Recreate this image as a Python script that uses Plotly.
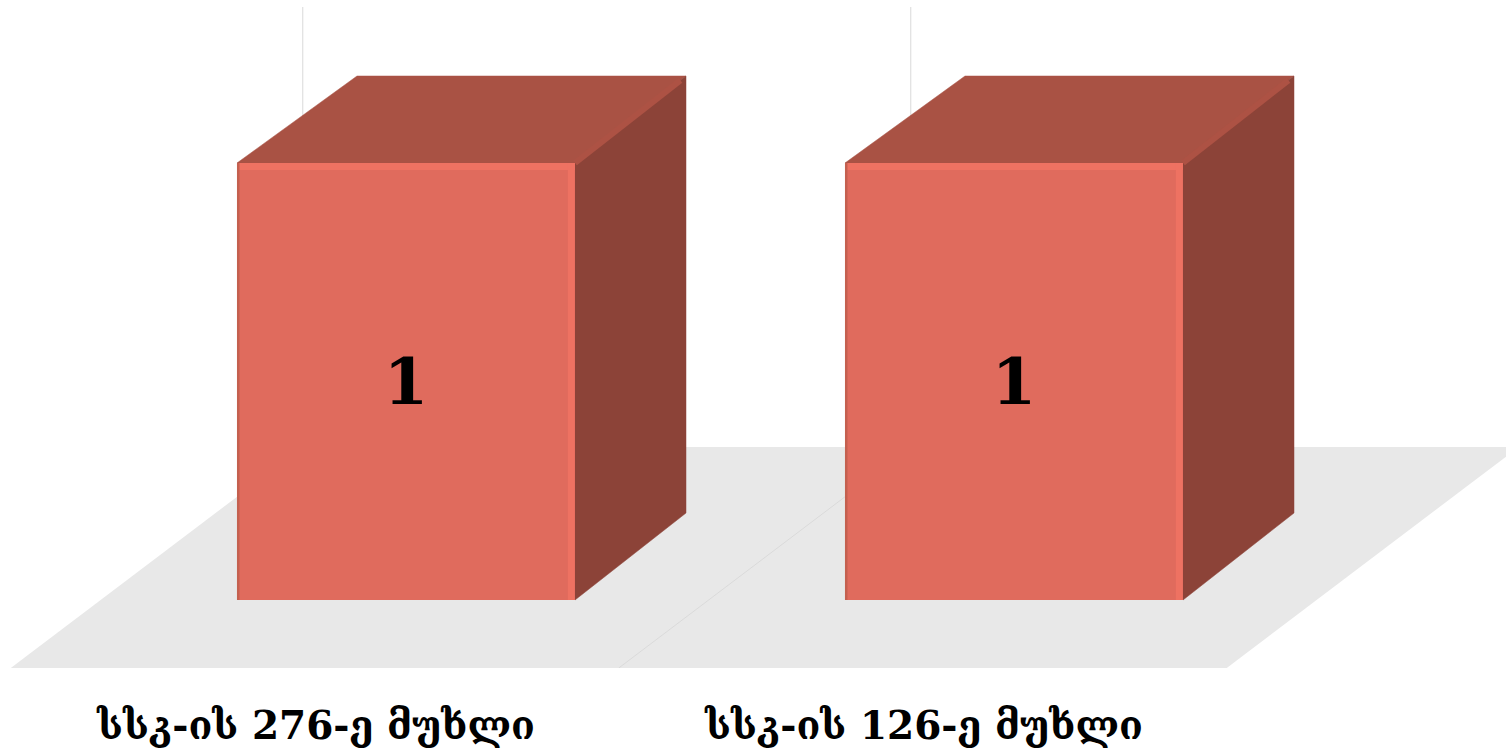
import plotly.graph_objects as go

categories = ["სსკ-ის 276-ე მუხლი", "სსკ-ის 126-ე მუხლი"]
values = [1, 1]
positions = [0, 1]
wall_top = 1.357

FRONT = "#e06b5d"
FRONT_LIGHT = "#ee7262"
FRONT_DARK = "#c4604f"
TOP = "#a95244"
SIDE = "#8c4338"
EDGE = "#ad5244"
FLOOR = "#e8e8e8"
FLOOR_LINE = "#dadada"
GRID = "#d9d9d9"

# one category = 608 px, one value unit = 437 px
BAR_W = 338 / 608
BAR_SHIFT = 90 / 608
DEPTH_X = 111 / 608
DEPTH_X_LEFT = 120 / 608
DEPTH_Y = 87 / 437
FLOOR_DX = 292 / 608
FLOOR_DY = 221 / 437
FLOOR_FRONT = -68 / 437
CELL = 1.0


def poly(xs, ys, color):
    return go.Scatter(x=xs, y=ys, mode="lines", fill="toself", fillcolor=color,
                      line=dict(color=color, width=0.5), hoverinfo="skip", showlegend=False)


def strip(xs, ys, color, width):
    return go.Scatter(x=xs, y=ys, mode="lines", line=dict(color=color, width=width),
                      hoverinfo="skip", showlegend=False)


fig = go.Figure()

# front faces
fig.add_trace(go.Bar(
    x=[p + BAR_SHIFT for p in positions], y=values, width=BAR_W,
    marker=dict(color=FRONT, line=dict(width=0)),
    text=[str(v) for v in values], textposition="inside", insidetextanchor="middle",
    textangle=0,
    insidetextfont=dict(family="DejaVu Serif", size=64, color="#000000", weight="bold"),
    showlegend=False,
))

# top and side faces + bevel highlights, all from the values
for p, v in zip(positions, values):
    left = p + BAR_SHIFT - BAR_W / 2
    right = p + BAR_SHIFT + BAR_W / 2
    fig.add_trace(poly([left, left + DEPTH_X_LEFT, right + DEPTH_X, right, left],
                       [v, v + DEPTH_Y, v + DEPTH_Y, v, v], TOP))
    fig.add_trace(poly([right, right + DEPTH_X, right + DEPTH_X, right, right],
                       [v, v + DEPTH_Y, DEPTH_Y, 0, v], SIDE))
    fig.add_trace(strip([right, right + DEPTH_X * 0.95], [v, v + DEPTH_Y * 0.95], EDGE, 6))
    fig.add_trace(strip([left, right], [v - 0.008, v - 0.008], FRONT_LIGHT, 7))
    fig.add_trace(strip([right - 0.006, right - 0.006], [0, v], FRONT_LIGHT, 7))
    fig.add_trace(strip([left + 0.002, left + 0.002], [0, v], FRONT_DARK, 2.5))

# floor and back wall lines sit under everything
shapes = []
n = len(categories)
floor_left = positions[0] - 0.5 - 0.002
floor_right = floor_left + n * CELL
shapes.append(dict(
    type="path", layer="below", fillcolor=FLOOR, line=dict(width=0),
    path=f"M {floor_left} {FLOOR_FRONT} L {floor_right} {FLOOR_FRONT} "
         f"L {floor_right + FLOOR_DX} {FLOOR_FRONT + FLOOR_DY} "
         f"L {floor_left + FLOOR_DX} {FLOOR_FRONT + FLOOR_DY} Z",
))
mid = floor_left + CELL
shapes.append(dict(type="line", layer="below", x0=mid, y0=FLOOR_FRONT,
                   x1=mid + FLOOR_DX, y1=FLOOR_FRONT + FLOOR_DY,
                   line=dict(color=FLOOR_LINE, width=1)))
for p in positions:
    wx = floor_left + p + FLOOR_DX
    shapes.append(dict(type="line", layer="below", x0=wx, y0=FLOOR_FRONT + FLOOR_DY,
                       x1=wx, y1=wall_top, line=dict(color=GRID, width=1)))

fig.update_layout(
    width=1506, height=756,
    margin=dict(l=0, r=0, t=0, b=88),
    paper_bgcolor="#ffffff", plot_bgcolor="#ffffff",
    shapes=shapes,
    xaxis=dict(range=[-316 / 608, 1190 / 608], tickmode="array", tickvals=positions,
               ticktext=categories, showgrid=False, zeroline=False, showline=False,
               ticks="outside", ticklen=23, tickcolor="rgba(0,0,0,0)",
               tickfont=dict(family="DejaVu Serif", size=39, color="#000000", weight="bold")),
    yaxis=dict(range=[FLOOR_FRONT, 600 / 437], showgrid=False, zeroline=False,
               showline=False, showticklabels=False),
)

fig.write_html("out.html", config=dict(displayModeBar=False),
               post_script="document.body.style.margin='0';")
